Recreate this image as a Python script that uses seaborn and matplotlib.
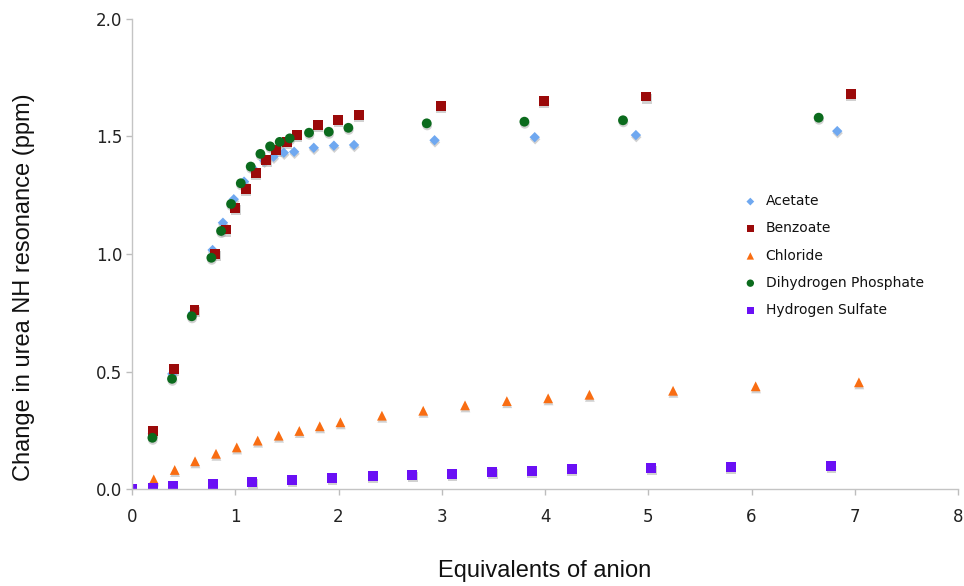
import pandas as pd
import seaborn as sns
import matplotlib.pyplot as plt
from matplotlib.transforms import ScaledTranslation

# values
acetate_x = [0.2, 0.39, 0.59, 0.78, 0.88, 0.985, 1.085, 1.18, 1.28, 1.37, 1.47, 1.57,
             1.76, 1.955, 2.15, 2.93, 3.90, 4.88, 6.83]
acetate_y = [0.235, 0.49, 0.75, 1.017, 1.133, 1.233, 1.308, 1.36, 1.397, 1.414, 1.431,
             1.435, 1.452, 1.461, 1.464, 1.484, 1.497, 1.506, 1.523]

benzoate_x = [0.2, 0.404, 0.604, 0.807, 0.907, 1.0, 1.101, 1.2, 1.3, 1.398, 1.498, 1.598,
              1.8, 1.995, 2.195, 2.99, 3.987, 4.98, 6.96]
benzoate_y = [0.247, 0.511, 0.763, 1.0, 1.104, 1.197, 1.275, 1.345, 1.40, 1.444, 1.475,
              1.505, 1.548, 1.569, 1.59, 1.631, 1.652, 1.67, 1.682]

chloride_x = [0.21, 0.413, 0.61, 0.813, 1.014, 1.217, 1.42, 1.62, 1.818, 2.018, 2.42,
              2.82, 3.225, 3.63, 4.03, 4.43, 5.24, 6.04, 7.04]
chloride_y = [0.041, 0.081, 0.118, 0.150, 0.177, 0.206, 0.227, 0.247, 0.267, 0.284, 0.312,
              0.333, 0.356, 0.374, 0.386, 0.401, 0.418, 0.437, 0.454]

phosphate_x = [0.197, 0.387, 0.578, 0.768, 0.862, 0.959, 1.053, 1.149, 1.243, 1.337, 1.43,
               1.527, 1.714, 1.905, 2.095, 2.854, 3.80, 4.755, 6.65]
phosphate_y = [0.218, 0.469, 0.735, 0.984, 1.098, 1.213, 1.301, 1.372, 1.426, 1.458, 1.477,
               1.492, 1.516, 1.52, 1.537, 1.556, 1.563, 1.569, 1.58]

sulfate_x = [0.0, 0.2, 0.394, 0.78, 1.165, 1.55, 1.937, 2.33, 2.715, 3.1, 3.49, 3.87,
             4.26, 5.03, 5.80, 6.77]
sulfate_y = [0.0, 0.006, 0.014, 0.023, 0.031, 0.037, 0.047, 0.055, 0.06, 0.065, 0.072,
             0.078, 0.084, 0.088, 0.095, 0.099]

series = {
    'Acetate': (acetate_x, acetate_y),
    'Benzoate': (benzoate_x, benzoate_y),
    'Chloride': (chloride_x, chloride_y),
    'Dihydrogen Phosphate': (phosphate_x, phosphate_y),
    'Hydrogen Sulfate': (sulfate_x, sulfate_y),
}
df = pd.concat([pd.DataFrame({'eq': x, 'shift': y, 'anion': name})
                for name, (x, y) in series.items()], ignore_index=True)

colors = {'Acetate': '#6fa8f0', 'Benzoate': '#9b0a0a', 'Chloride': '#f96d12',
          'Dihydrogen Phosphate': '#0b6b1d', 'Hydrogen Sulfate': '#6a10f5'}
markers = {'Acetate': 'D', 'Benzoate': 's', 'Chloride': '^',
           'Dihydrogen Phosphate': 'o', 'Hydrogen Sulfate': 's'}
sizes = {'Acetate': 28, 'Benzoate': 50, 'Chloride': 50,
         'Dihydrogen Phosphate': 50, 'Hydrogen Sulfate': 50}

sns.set_style('white')
fig, ax = plt.subplots(figsize=(9.64, 5.86), dpi=100)
fig.subplots_adjust(left=0.137, right=0.9938, bottom=0.1655, top=0.9676)

# soft drop shadows, then the coloured markers
shadow = ScaledTranslation(0.3 / 72, -1.5 / 72, fig.dpi_scale_trans)
for name in series:
    sub = df[df['anion'] == name]
    sns.scatterplot(data=sub, x='eq', y='shift', color='#9a9a9a', alpha=0.45,
                    marker=markers[name], s=sizes[name], edgecolor='none',
                    legend=False, ax=ax)
    ax.collections[-1].set_offset_transform(ax.transData + shadow)
for name in series:
    sub = df[df['anion'] == name]
    sns.scatterplot(data=sub, x='eq', y='shift', color=colors[name],
                    marker=markers[name], s=sizes[name], edgecolor='none',
                    label=name, ax=ax)

ax.set_xlim(0, 8)
ax.set_ylim(0, 2.0)
ax.set_xticks(range(0, 9))
ax.set_yticks([0.0, 0.5, 1.0, 1.5, 2.0])
ax.set_yticklabels(['0.0', '0.5', '1.0', '1.5', '2.0'])
ax.tick_params(axis='both', labelsize=12, colors='#bdbdbd', labelcolor='#222222',
               length=4, width=1, direction='out', bottom=True, left=True)
ax.tick_params(axis='x', pad=10)
ax.tick_params(axis='y', pad=3)
for side in ['top', 'right']:
    ax.spines[side].set_visible(False)
for side in ['left', 'bottom']:
    ax.spines[side].set_color('#c4c4c4')
    ax.spines[side].set_linewidth(1)
ax.grid(False)

ax.set_xlabel('Equivalents of anion', fontsize=17, family='Liberation Sans', color='#111111')
ax.set_ylabel('Change in urea NH resonance (ppm)', fontsize=17, family='Liberation Sans',
              color='#111111')
ax.xaxis.set_label_coords(0.5, -0.15)
ax.yaxis.set_label_coords(-0.118, 0.43)

handles, labels = ax.get_legend_handles_labels()
leg = ax.legend(handles, labels, frameon=False, loc='upper left',
                bbox_to_anchor=(0.725, 0.639), fontsize=10, handletextpad=0.1,
                labelspacing=0.95, markerscale=0.75, borderaxespad=0)
for t in leg.get_texts():
    t.set_color('#111111')

fig.savefig('out.png', dpi=100)
